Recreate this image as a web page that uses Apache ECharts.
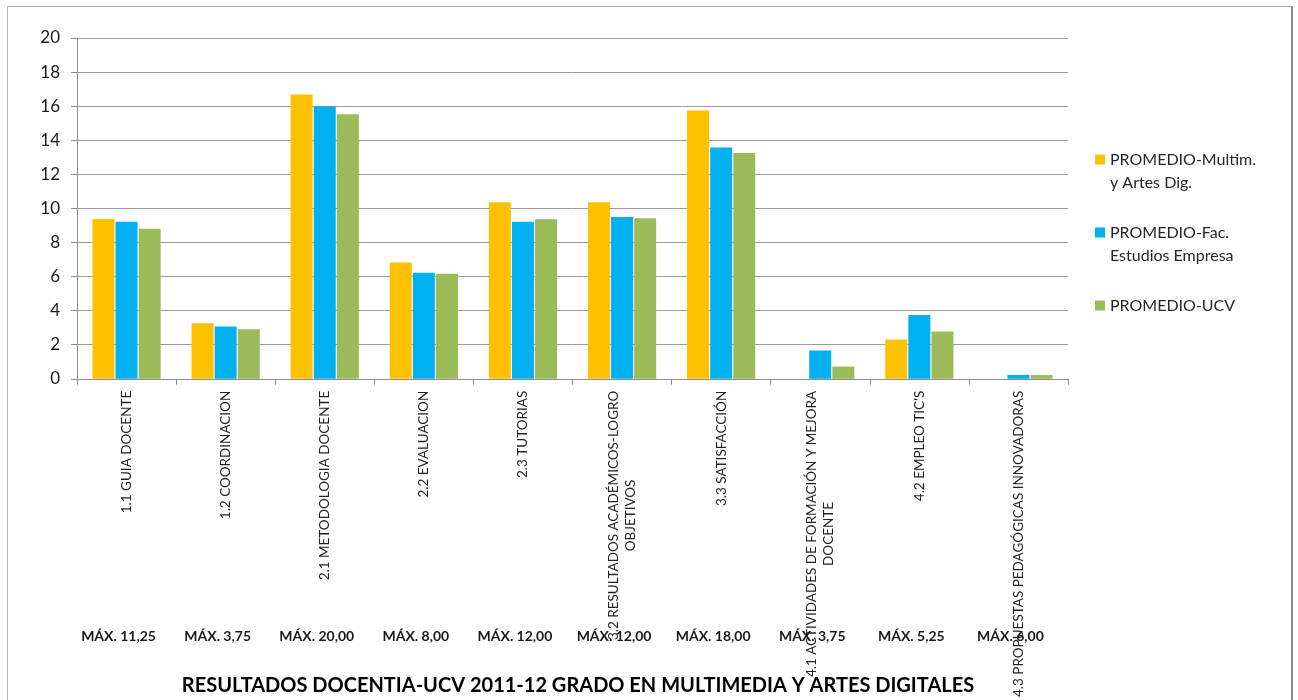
<!DOCTYPE html>
<html>
<head>
<meta charset="utf-8">
<title>Resultados Docentia-UCV 2011-12</title>
<script src="https://cdn.jsdelivr.net/npm/echarts@6/dist/echarts.min.js"></script>
<style>
    html, body { margin: 0; padding: 0; background: #fff; }
    #wrap { position: relative; width: 1298px; height: 700px; overflow: hidden; }
    #chart { width: 1298px; height: 700px; }
    /* marco del gráfico */
    #frame {
        position: absolute; left: 7px; top: 6px; width: 1283px; height: 720px;
        border-left: 1px solid #b8b8b8; border-top: 1px solid #a8a8a8;
        border-right: 2px solid #8a8a8a; pointer-events: none;
    }
</style>
</head>
<body>
<div id="wrap">
    <div id="chart"></div>
    <div id="frame"></div>
</div>
<script>
// Categorías (eje X)
const categorias = [
    '1.1 GUIA DOCENTE',
    '1.2 COORDINACION',
    '2.1 METODOLOGIA DOCENTE',
    '2.2 EVALUACION',
    '2.3 TUTORIAS',
    '3.2 RESULTADOS ACADÉMICOS-LOGRO\nOBJETIVOS',
    '3.3 SATISFACCIÓN',
    '4.1 ACTIVIDADES DE FORMACIÓN Y MEJORA\nDOCENTE',
    '4.2 EMPLEO TIC\'S',
    '4.3 PROPUESTAS PEDAGÓGICAS INNOVADORAS'
];

// Puntuaciones máximas de cada dimensión
const maximos = [
    'MÁX. 11,25', 'MÁX. 3,75', 'MÁX. 20,00', 'MÁX. 8,00', 'MÁX. 12,00',
    'MÁX. 12,00', 'MÁX. 18,00', 'MÁX. 3,75', 'MÁX. 5,25', 'MÁX. 6,00'
];

// Series
const promedioMultim = [9.38, 3.26, 16.68, 6.82, 10.36, 10.36, 15.74, 0, 2.30, 0];
const promedioFac    = [9.22, 3.07, 15.98, 6.23, 9.22, 9.50, 13.58, 1.66, 3.75, 0.23];
const promedioUCV    = [8.80, 2.91, 15.52, 6.16, 9.36, 9.42, 13.25, 0.72, 2.77, 0.22];

const nombres = ['PROMEDIO-Multim.\ny Artes Dig.', 'PROMEDIO-Fac.\nEstudios Empresa', 'PROMEDIO-UCV'];
const colores = ['#FFC000', '#00B0F0', '#9BBB59'];

const fuente = 'Lato, "Open Sans", sans-serif';

const chart = echarts.init(document.getElementById('chart'), null, { renderer: 'canvas' });

function serie(nombre, datos, color) {
    return {
        name: nombre,
        type: 'bar',
        xAxisIndex: 0,
        data: datos,
        barWidth: 22,
        barGap: '5%',
        itemStyle: { color: color },
        emphasis: { disabled: true }
    };
}

const option = {
    animation: false,
    backgroundColor: '#fff',
    title: {
        text: 'RESULTADOS DOCENTIA-UCV 2011-12 GRADO EN MULTIMEDIA Y ARTES DIGITALES',
        left: 573,
        textAlign: 'center',
        top: 671,
        textStyle: { fontFamily: fuente, fontSize: 20, fontWeight: 'bold', color: '#000' }
    },
    legend: {
        orient: 'vertical',
        left: 1090,
        top: 120,
        itemWidth: 10,
        itemHeight: 10,
        itemGap: 4,
        icon: 'rect',
        // línea vacía arriba (y abajo si es de una línea) para alinear el icono con la primera línea
        formatter: function (name) {
            return '\n' + name + (name.indexOf('\n') < 0 ? '\n' : '');
        },
        textStyle: { fontFamily: fuente, fontSize: 16, lineHeight: 23, color: '#262626' },
        data: nombres
    },
    grid: { left: 77, right: 230, top: 38, bottom: 321, containLabel: false },
    xAxis: [
        {
            type: 'category',
            data: categorias,
            axisLine: { lineStyle: { color: '#8c8c8c' } },
            axisTick: { show: true, length: 6, lineStyle: { color: '#8c8c8c' } },
            axisLabel: {
                interval: 0,
                rotate: 90,
                margin: 12,
                formatter: function (v) {
                    return v.split('\n').map(s => '{c|' + s + '}').join('\n');
                },
                rich: {
                    c: { align: 'center', fontFamily: fuente, fontSize: 13.5, lineHeight: 17, color: '#222' }
                }
            }
        },
        {
            type: 'category',
            data: maximos,
            position: 'bottom',
            offset: 243,
            axisLine: { show: false },
            axisTick: { show: false },
            axisLabel: {
                interval: 0,
                margin: 8,
                padding: [0, 16, 0, 0],
                fontFamily: fuente,
                fontSize: 14,
                fontWeight: 'bold',
                color: '#1a1a1a'
            }
        }
    ],
    yAxis: {
        type: 'value',
        min: 0,
        max: 20,
        interval: 2,
        axisLine: { show: true, lineStyle: { color: '#8c8c8c' } },
        axisTick: { show: true, length: 6, lineStyle: { color: '#8c8c8c' } },
        axisLabel: { margin: 17, fontFamily: fuente, fontSize: 17, color: '#1a1a1a' },
        splitLine: { lineStyle: { color: '#9c9c9c', width: 1 } }
    },
    series: [
        serie(nombres[0], promedioMultim, colores[0]),
        serie(nombres[1], promedioFac, colores[1]),
        serie(nombres[2], promedioUCV, colores[2])
    ]
};

chart.setOption(option);
</script>
</body>
</html>
